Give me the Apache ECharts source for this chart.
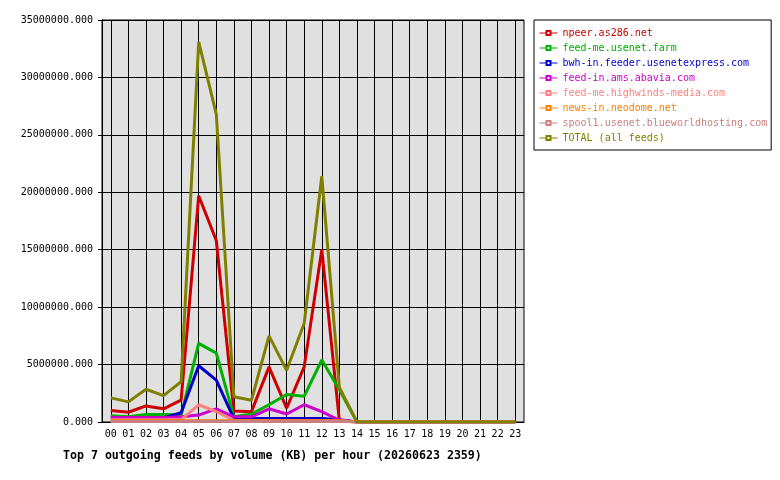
<!DOCTYPE html>
<html>
<head>
<meta charset="utf-8">
<script src="https://cdn.jsdelivr.net/npm/echarts@6/dist/echarts.min.js"></script>
<style>html,body{margin:0;padding:0;background:#fff}#c{width:780px;height:480px}</style>
</head>
<body>
<div id="c"></div>
<script>
var hours = ['00','01','02','03','04','05','06','07','08','09','10','11','12','13','14','15','16','17','18','19','20','21','22','23'];
var seriesNames = ['npeer.as286.net','feed-me.usenet.farm','bwh-in.feeder.usenetexpress.com','feed-in.ams.abavia.com','feed-me.highwinds-media.com','news-in.neodome.net','spool1.usenet.blueworldhosting.com','TOTAL (all feeds)'];
var seriesColors = ['#cc0000','#00b000','#0000cc','#cc00cc','#ff8080','#ff8000','#c88080','#808000'];
// values in KB
var npeer   = [1000000,850000,1400000,1150000,1900000,19700000,15800000,950000,900000,4800000,1200000,4800000,15000000,100000,0,0,0,0,0,0,0,0,0,0];
var farm    = [550000,450000,650000,650000,600000,6850000,6000000,450000,700000,1500000,2400000,2250000,5400000,2800000,0,0,0,0,0,0,0,0,0,0];
var bwh     = [350000,350000,350000,350000,800000,4900000,3650000,300000,300000,300000,300000,300000,300000,200000,0,0,0,0,0,0,0,0,0,0];
var abavia  = [400000,400000,400000,400000,450000,600000,1150000,450000,450000,1150000,700000,1500000,900000,150000,0,0,0,0,0,0,0,0,0,0];
var highw   = [200000,200000,200000,200000,200000,1500000,900000,150000,100000,100000,100000,100000,100000,100000,0,0,0,0,0,0,0,0,0,0];
var neodome = [100000,100000,100000,100000,100000,100000,100000,100000,100000,100000,100000,100000,100000,100000,0,0,0,0,0,0,0,0,0,0];
var spool1  = [50000,50000,50000,50000,50000,50000,50000,50000,50000,50000,50000,50000,50000,50000,0,0,0,0,0,0,0,0,0,0];
var total   = [2100000,1750000,2850000,2300000,3500000,33100000,26800000,2200000,1900000,7500000,4500000,8600000,21400000,3000000,0,0,0,0,0,0,0,0,0,0];
var allData = [npeer, farm, bwh, abavia, highw, neodome, spool1, total];
var yMin = 0, yMax = 35000000, yStep = 5000000;
var titleText = 'Top 7 outgoing feeds by volume (KB) per hour (20260623 2359)';

var FONT = 'DejaVu Sans Mono';
var PLOT_H = 402;
var chart = echarts.init(document.getElementById('c'), null, {renderer: 'canvas'});
var series = seriesNames.map(function (n, i) {
  return {
    name: n, type: 'line', data: allData[i], xAxisIndex: 0,
    symbol: 'emptyRect', symbolSize: 4, showSymbol: false,
    lineStyle: {color: seriesColors[i], width: 3},
    itemStyle: {color: seriesColors[i]},
    emphasis: {disabled: true}, animation: false, z: 2 + i
  };
});
chart.setOption({
  animation: false,
  title: {
    text: titleText, left: 58, top: 445,
    textStyle: {fontFamily: FONT, fontSize: 11.6, fontWeight: 'bold', color: '#000'}
  },
  grid: {
    left: 102, top: 20, width: 422, height: PLOT_H,
    show: true, backgroundColor: '#e0e0e0', borderColor: '#000', borderWidth: 1
  },
  legend: {
    orient: 'vertical', left: 534, top: 20,
    padding: [7, 4, 6, 5],
    backgroundColor: '#fff', borderColor: '#000', borderWidth: 1,
    itemWidth: 18, itemHeight: 5, itemGap: 3,
    lineStyle: {width: 1},
    textStyle: {fontFamily: FONT, fontSize: 10, lineHeight: 12},
    data: seriesNames.map(function (n, i) {
      return {name: n, textStyle: {color: seriesColors[i]}};
    })
  },
  xAxis: [{
    type: 'category', data: hours, boundaryGap: true,
    axisLine: {lineStyle: {color: '#000', width: 1}},
    axisTick: {alignWithLabel: true, length: 4, lineStyle: {color: '#000'}},
    axisLabel: {fontFamily: FONT, fontSize: 10, color: '#000', margin: 7, interval: 0},
    splitLine: {show: false}
  }, {
    type: 'category', data: hours, boundaryGap: true, position: 'bottom',
    axisLine: {show: false}, axisLabel: {show: false}, splitLine: {show: false},
    axisTick: {show: true, inside: true, alignWithLabel: true, interval: 0, length: PLOT_H,
      lineStyle: {color: '#000', width: 1}}
  }],
  yAxis: {
    type: 'value', min: yMin, max: yMax, interval: yStep,
    axisLine: {show: true, lineStyle: {color: '#000', width: 1}},
    axisTick: {show: true, length: 4, lineStyle: {color: '#000'}},
    axisLabel: {fontFamily: FONT, fontSize: 10, color: '#000', margin: 9,
      formatter: function (v) { return v.toFixed(3); }},
    splitLine: {show: true, lineStyle: {color: '#000', width: 1}}
  },
  series: series
});
</script>
</body>
</html>
